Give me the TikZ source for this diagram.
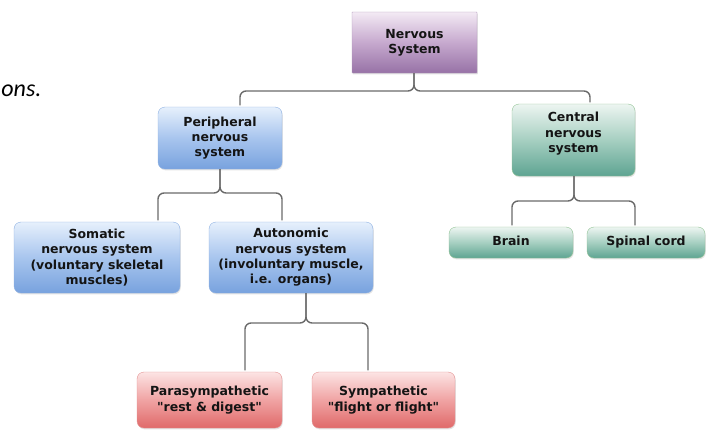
\documentclass[tikz,border=0pt]{standalone}
\usepackage{fontspec}
\setmainfont{DejaVu Sans}[Ligatures=TeXOff]
\newfontfamily\notefont{Carlito}
\usepackage{tikz}
\usetikzlibrary{shadows}
\definecolor{purpleT}{HTML}{F3EAF4}
\definecolor{purpleM}{HTML}{C6A9CE}
\definecolor{purpleD}{HTML}{9772A6}
\definecolor{purpleB}{HTML}{B096BB}
\definecolor{blueT}{HTML}{E6F0FC}
\definecolor{blueM}{HTML}{A8C5EE}
\definecolor{blueD}{HTML}{78A2DE}
\definecolor{blueB}{HTML}{8DB0E2}
\definecolor{greenT}{HTML}{EDF5F1}
\definecolor{greenM}{HTML}{A6CFC1}
\definecolor{greenD}{HTML}{5EA492}
\definecolor{greenB}{HTML}{90C293}
\definecolor{redT}{HTML}{FCE4E4}
\definecolor{redM}{HTML}{F0A3A3}
\definecolor{redD}{HTML}{E06A6A}
\definecolor{redB}{HTML}{E39292}
\definecolor{linkgray}{HTML}{6A6A6A}
\def\bracket(#1:#2)(#3:#4)(#5:#6)#7{ \draw[link] (#3.north -| #4,0) |- (#2,#7) -- (#1.south -| #2,0); \draw[link] (#5.north -| #6,0) |- (#2,#7) -- (#1.south -| #2,0) }
\tikzstyle{box} = [draw, rounded corners=7pt, align=center, inner sep=0pt, text=black!92, font=\bfseries\fontsize{12.5}{15.3}\selectfont, drop shadow={opacity=0.22, shadow xshift=0.8pt, shadow yshift=-1.4pt}]
\tikzstyle{purplebox} = [box, rounded corners=0.5pt, draw=purpleB, top color=purpleT, bottom color=purpleD, middle color=purpleM]
\tikzstyle{bluebox} = [box, draw=blueB, top color=blueT, bottom color=blueD, middle color=blueM]
\tikzstyle{greenbox} = [box, draw=greenB, top color=greenT, bottom color=greenD, middle color=greenM]
\tikzstyle{redbox} = [box, draw=redB, top color=redT, bottom color=redD, middle color=redM]
\tikzstyle{link} = [draw=linkgray, line width=1.4pt, rounded corners=6pt, shorten <=1.5pt]

\begin{document}
\begin{tikzpicture}[x=1pt,y=-1pt]
                        \useasboundingbox (0,0) rectangle (709,432);
                        \node[anchor=base east, font=\notefont\itshape\fontsize{24}{28}\selectfont](note) at (45,96) {ons.};

                        \node[purplebox, minimum width=125pt, minimum height=61pt](nerv) at (414.5,42.5) {Nervous\\System};
                        \node[bluebox, minimum width=124pt, minimum height=62pt](periph) at (220,138) {Peripheral\\nervous\\system};
                        \node[greenbox, minimum width=123pt, minimum height=72pt](cns) at (573.5,140) {Central\\nervous\\system\\};
                        \node[bluebox, minimum width=166pt, minimum height=71pt](som) at (97,257.5) {Somatic\\nervous system\\(voluntary skeletal\\muscles)};
                        \node[bluebox, minimum width=164pt, minimum height=71pt](auto) at (291,257.5) {Autonomic\\nervous system\\(involuntary muscle,\\i.e. organs)};
                        \node[greenbox, minimum width=124pt, minimum height=31pt, text height=9pt, text depth=2.5pt](brain) at (511,242.5) {Brain};
                        \node[greenbox, minimum width=118pt, minimum height=31pt, text height=9pt, text depth=2.5pt](spinal) at (646,242.5) {Spinal cord};
                        \node[redbox, minimum width=145pt, minimum height=56pt](para) at (209.5,400) {Parasympathetic\\"rest \& digest"};
                        \node[redbox, minimum width=143pt, minimum height=56pt](symp) at (383.5,400) {Sympathetic\\"flight or flight"};

                        \bracket(nerv:414)(periph:240)(cns:590){91};
                        \bracket(periph:220)(som:158)(auto:282){193};
                        \bracket(cns:574)(brain:512)(spinal:635){201};
                        \bracket(auto:306)(para:245)(symp:368){323};
                    \end{tikzpicture}
\end{document}
